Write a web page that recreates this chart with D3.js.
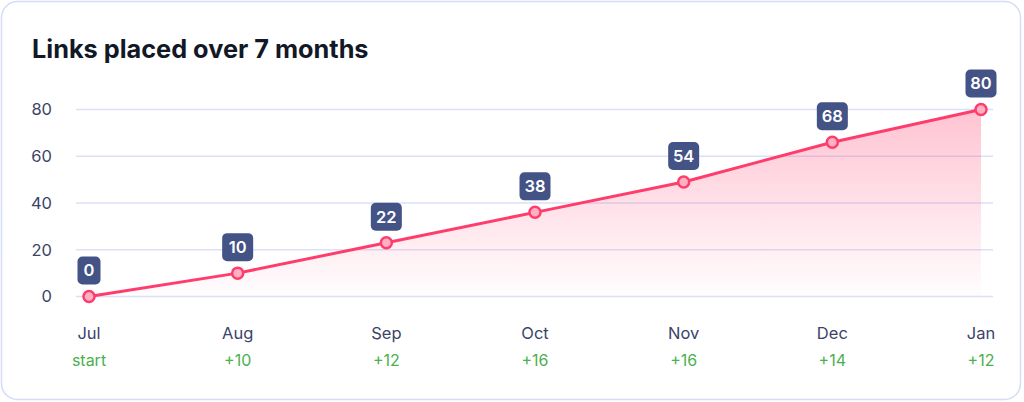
<!DOCTYPE html>
<html>
<head>
<meta charset="utf-8">
<script src="https://cdn.jsdelivr.net/npm/d3@7"></script>
<style>
  html, body { margin: 0; padding: 0; background: #fff; }
  svg { display: block; font-family: Inter, "Noto Sans", sans-serif; }
</style>
</head>
<body>
<svg id="chart"></svg>
<script>
// Data
const months = ["Jul", "Aug", "Sep", "Oct", "Nov", "Dec", "Jan"];
const totals = [0, 10, 22, 38, 54, 68, 80];          // badge labels
const plotted = [0, 10, 23, 36, 49, 66, 80];         // heights of the points as drawn
const deltas = ["start", "+10", "+12", "+16", "+16", "+14", "+12"];
const yTicks = [0, 20, 40, 60, 80];

const width = 1024;
const height = 402;

const svg = d3.select("#chart")
    .attr("width", width)
    .attr("height", height);

// card
svg.append("rect")
    .attr("x", 1.5).attr("y", 1.5)
    .attr("width", 1019).attr("height", 398)
    .attr("rx", 16)
    .attr("fill", "#fff")
    .attr("stroke", "#d6dbf7")
    .attr("stroke-width", 1.5);

svg.append("text")
    .attr("x", 32).attr("y", 58)
    .attr("font-size", 25.3)
    .attr("font-weight", 700)
    .attr("fill", "#121826")
    .text("Links placed over 7 months");

const x = d3.scalePoint().domain(months).range([89, 981]);
const y = d3.scaleLinear().domain([0, 80]).range([296.5, 109.5]);

// gradient for the area
const defs = svg.append("defs");
const grad = defs.append("linearGradient")
    .attr("id", "areaGrad")
    .attr("gradientUnits", "userSpaceOnUse")
    .attr("x1", 0).attr("y1", y(80))
    .attr("x2", 0).attr("y2", y(0));
grad.append("stop").attr("offset", "0%").attr("stop-color", "#ff4f7b").attr("stop-opacity", 0.34);
grad.append("stop").attr("offset", "100%").attr("stop-color", "#ff4f7b").attr("stop-opacity", 0.01);

// gridlines
svg.append("g")
    .selectAll("line")
    .data(yTicks)
    .join("line")
    .attr("x1", 76).attr("x2", 993)
    .attr("y1", d => y(d)).attr("y2", d => y(d))
    .attr("stroke", "#dcdff7")
    .attr("stroke-width", 1.5);

// y labels
svg.append("g")
    .selectAll("text")
    .data(yTicks)
    .join("text")
    .attr("x", 52)
    .attr("y", d => y(d))
    .attr("dy", "0.35em")
    .attr("text-anchor", "end")
    .attr("font-size", 16.5)
    .attr("fill", "#3b4468")
    .text(d => d);

const pts = months.map((m, i) => ({ m, v: plotted[i], label: totals[i], delta: deltas[i] }));

// area + line
svg.append("path")
    .datum(pts)
    .attr("fill", "url(#areaGrad)")
    .attr("d", d3.area().x(d => x(d.m)).y0(y(0)).y1(d => y(d.v)));

svg.append("path")
    .datum(pts)
    .attr("fill", "none")
    .attr("stroke", "#ff3d6c")
    .attr("stroke-width", 3)
    .attr("stroke-linejoin", "round")
    .attr("d", d3.line().x(d => x(d.m)).y(d => y(d.v)));

svg.append("g")
    .selectAll("circle")
    .data(pts)
    .join("circle")
    .attr("cx", d => x(d.m))
    .attr("cy", d => y(d.v))
    .attr("r", 5.5)
    .attr("fill", "#ffb0c3")
    .attr("stroke", "#ff3d6c")
    .attr("stroke-width", 2.5);

// badges
const badge = svg.append("g")
    .selectAll("g")
    .data(pts)
    .join("g")
    .attr("transform", d => `translate(${x(d.m)},${y(d.v) - 12})`);

badge.append("rect")
    .attr("x", d => -(String(d.label).length > 1 ? 15.5 : 11.5))
    .attr("y", -28)
    .attr("width", d => String(d.label).length > 1 ? 31 : 23)
    .attr("height", 28)
    .attr("rx", 5)
    .attr("fill", "#435386");

badge.append("text")
    .attr("y", -14)
    .attr("dy", "0.36em")
    .attr("text-anchor", "middle")
    .attr("font-size", 16.5)
    .attr("font-weight", 600)
    .attr("fill", "#fff")
    .text(d => d.label);

// x labels
const xl = svg.append("g")
    .selectAll("g")
    .data(pts)
    .join("g")
    .attr("transform", d => `translate(${x(d.m)},0)`);

xl.append("text")
    .attr("y", 333)
    .attr("dy", "0.35em")
    .attr("text-anchor", "middle")
    .attr("font-size", 16.5)
    .attr("fill", "#3b4468")
    .text(d => d.m);

xl.append("text")
    .attr("y", 360)
    .attr("dy", "0.35em")
    .attr("text-anchor", "middle")
    .attr("font-size", 16)
    .attr("fill", "#4bb04f")
    .text(d => d.delta);
</script>
</body>
</html>
